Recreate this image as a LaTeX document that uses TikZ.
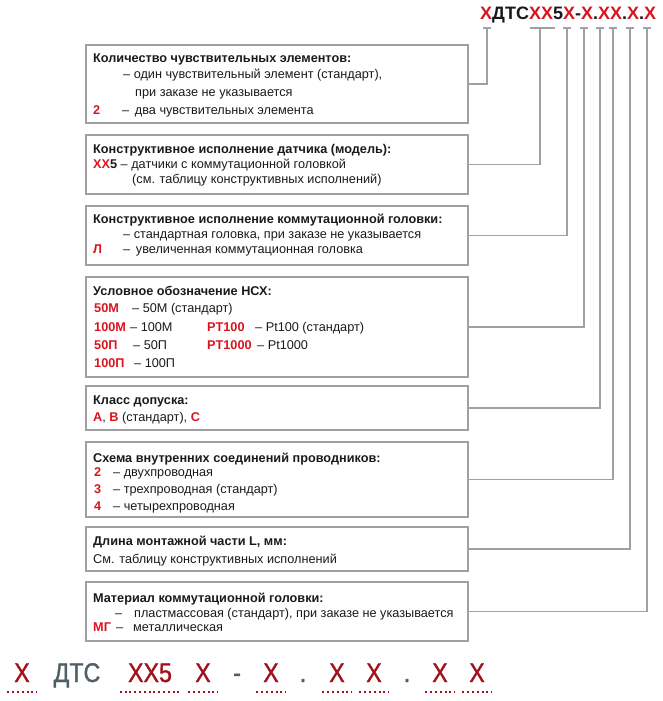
\documentclass[tikz,border=0pt]{standalone}
\usepackage{fontspec}
\setmainfont{Liberation Sans}
\newfontfamily\codefont[FakeStretch=0.86, FakeBold=1.2]{Liberation Sans}

\definecolor{codered}{HTML}{D9141E}
\definecolor{darkred}{HTML}{A0121C}
\definecolor{slate}{HTML}{4F5F68}
\definecolor{linegray}{HTML}{A0A0A0}
\definecolor{textblack}{HTML}{1A1A1A}

\newcommand{\rd}[1]{\textcolor{codered}{\bfseries #1}}

\tikzset{
  box/.style={draw=linegray, line width=1.6pt, anchor=north west, inner sep=0pt, minimum width=382pt},
  conn/.style={draw=linegray, line width=1.6pt},
  txt/.style={anchor=base west, inner sep=0pt, text=textblack, font=\fontsize{12.7}{15}\selectfont},
  ttl/.style={txt, font=\fontsize{12.7}{15}\selectfont\bfseries},
  bigx/.style={anchor=base, inner sep=0pt, minimum width=29pt, text=darkred, font=\codefont\fontsize{27}{30}\selectfont},
  uline/.style={draw=darkred, line width=2pt, dash pattern=on 2pt off 2.8pt}
}

\begin{document}
\begin{tikzpicture}[x=1pt, y=-1pt]
  \useasboundingbox (0,0) rectangle (662,701);

  % code at the top
  \node[anchor=base west, inner sep=0pt, text=textblack, font=\fontsize{18}{20}\selectfont\bfseries] (code) at (480,20)
    {\textcolor{codered}{Х}ДТС\textcolor{codered}{ХХ}5\textcolor{codered}{Х}-\textcolor{codered}{Х}.\textcolor{codered}{ХХ}.\textcolor{codered}{Х}.\textcolor{codered}{Х}};
  \coordinate (t1) at (487,28);
  \coordinate (t2) at (540,28);
  \coordinate (t3) at (567,28);
  \coordinate (t4) at (584,28);
  \coordinate (t5) at (600,28);
  \coordinate (t6) at (613,28);
  \coordinate (t7) at (630,28);
  \coordinate (t8) at (647,28);

  % boxes
  \node[box, minimum height=78pt] (b1) at (85,44) {};
  \node[box, minimum height=59pt] (b2) at (85,134) {};
  \node[box, minimum height=59pt] (b3) at (85,205) {};
  \node[box, minimum height=100pt] (b4) at (85,276) {};
  \node[box, minimum height=44pt] (b5) at (85,385) {};
  \node[box, minimum height=75pt] (b6) at (85,441) {};
  \node[box, minimum height=44pt] (b7) at (85,526) {};
  \node[box, minimum height=59pt] (b8) at (85,581) {};

  % connectors
  \foreach \i in {1,...,8}
    \draw[conn] (b\i.east) -| (t\i);
  \foreach \i in {1,3,4,5,6,7,8}
    \draw[conn] ([xshift=-4pt]t\i) -- ([xshift=4pt]t\i);
  \draw[conn] ([xshift=-10pt]t2) -- ([xshift=15pt]t2);

  % box 1
  \node[ttl] (q1) at (93,63) {Количество чувствительных элементов:};
  \node[txt] (q1a) at (123,78) {– один чувствительный элемент (стандарт),};
  \node[txt] (q1b) at (135,96) {при заказе не указывается};
  \node[txt] (q1c) at (93,114) {\rd{2}};
  \node[txt] (q1d) at (122,114) {– \,два чувствительных элемента};

  % box 2
  \node[ttl] (q2) at (93,153) {Конструктивное исполнение датчика (модель):};
  \node[txt] (q2a) at (93,168) {\rd{ХХ}\textbf{5} – датчики с коммутационной головкой};
  \node[txt] (q2b) at (132,183) {(см. таблицу конструктивных исполнений)};

  % box 3
  \node[ttl] (q3) at (93,223) {Конструктивное исполнение коммутационной головки:};
  \node[txt] (q3a) at (123,238) {– стандартная головка, при заказе не указывается};
  \node[txt] (q3b) at (93,253) {\rd{Л}};
  \node[txt] (q3c) at (123,253) {– \,увеличенная коммутационная головка};

  % box 4
  \node[ttl] (q4) at (93,295) {Условное обозначение НСХ:};
  \node[txt] (q4a) at (94,312) {\rd{50М}};
  \node[txt] (q4b) at (132,312) {– 50М (стандарт)};
  \node[txt] (q4c) at (94,331) {\rd{100М}};
  \node[txt] (q4d) at (130,331) {– 100М};
  \node[txt] (q4e) at (207,331) {\rd{PT100}};
  \node[txt] (q4f) at (255,331) {– Pt100 (стандарт)};
  \node[txt] (q4g) at (94,349) {\rd{50П}};
  \node[txt] (q4h) at (133,349) {– 50П};
  \node[txt] (q4i) at (207,349) {\rd{PT1000}};
  \node[txt] (q4j) at (257,349) {– Pt1000};
  \node[txt] (q4k) at (94,367) {\rd{100П}};
  \node[txt] (q4l) at (134,367) {– 100П};

  % box 5
  \node[ttl] (q5) at (93,404) {Класс допуска:};
  \node[txt] (q5a) at (93,421) {\rd{A}, \rd{B} (стандарт), \rd{C}};

  % box 6
  \node[ttl] (q6) at (93,462) {Схема внутренних соединений проводников:};
  \node[txt] (q6a) at (94,476) {\rd{2}};
  \node[txt] (q6b) at (113,476) {– двухпроводная};
  \node[txt] (q6c) at (94,493) {\rd{3}};
  \node[txt] (q6d) at (113,493) {– трехпроводная (стандарт)};
  \node[txt] (q6e) at (94,510) {\rd{4}};
  \node[txt] (q6f) at (113,510) {– четырехпроводная};

  % box 7
  \node[ttl] (q7) at (93,545) {Длина монтажной части L, мм:};
  \node[txt] (q7a) at (93,563) {См. таблицу конструктивных исполнений};

  % box 8
  \node[ttl] (q8) at (93,602) {Материал коммутационной головки:};
  \node[txt] (q8a) at (115,617) {–};
  \node[txt] (q8b) at (134,617) {пластмассовая (стандарт), при заказе не указывается};
  \node[txt] (q8c) at (93,631) {\rd{МГ}};
  \node[txt] (q8d) at (116,631) {–};
  \node[txt] (q8e) at (133,631) {металлическая};

  % code line at the bottom
  \node[bigx] (x1) at (22,682) {Х};
  \node[bigx, text=slate] (dts) at (77,682) {ДТС};
  \node[bigx, minimum width=60pt] (x2) at (150,682) {ХХ5};
  \node[bigx] (x3) at (203,682) {Х};
  \node[bigx, text=slate] (dash) at (237,682) {-};
  \node[bigx] (x4) at (271,682) {Х};
  \node[bigx, text=slate, minimum width=0pt] (dot1) at (303,682) {.};
  \node[bigx] (x5) at (337,682) {Х};
  \node[bigx] (x6) at (374,682) {Х};
  \node[bigx, text=slate, minimum width=0pt] (dot2) at (407,682) {.};
  \node[bigx] (x7) at (440,682) {Х};
  \node[bigx] (x8) at (477,682) {Х};
  \foreach \n in {x1,x2,x3,x4,x5,x6,x7,x8}
    \draw[uline] ([yshift=-10pt]\n.base west) -- ([yshift=-10pt]\n.base east);
\end{tikzpicture}
\end{document}
